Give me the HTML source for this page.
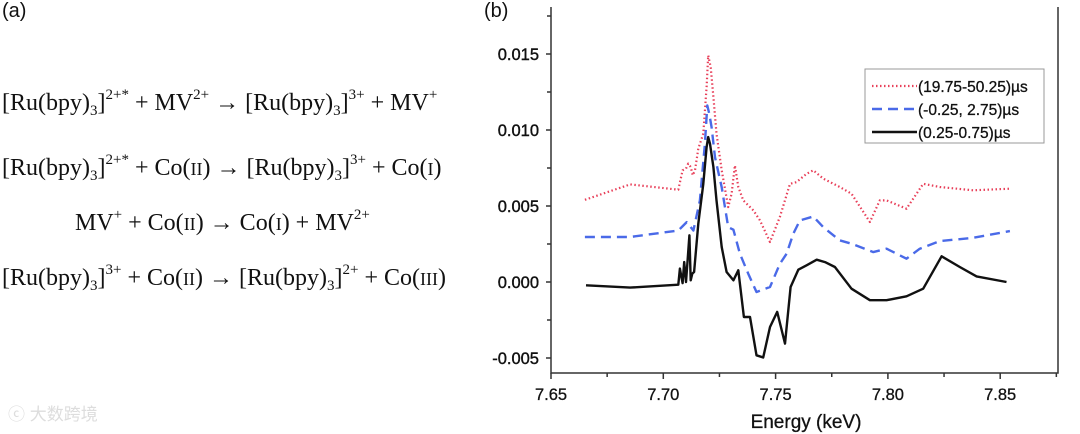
<!DOCTYPE html>
<html><head><meta charset="utf-8"><style>
body{margin:0;background:#fff;width:1080px;height:434px;overflow:hidden;position:relative}
.eq{position:absolute;font-family:"Liberation Serif",serif;font-size:24px;color:#111;white-space:nowrap}
.eq sup{font-size:15px;vertical-align:11px;line-height:0}
.eq sub{font-size:15px;vertical-align:-5px;line-height:0}
.sc{font-size:18px}
.lbl{position:absolute;font-family:"Liberation Sans",sans-serif;font-size:20px;color:#111}
</style></head><body>
<div class="lbl" style="left:2px;top:0px">(a)</div>
<div class="lbl" style="left:484px;top:0px">(b)</div>
<div class="eq" style="left:2px;top:90px">[Ru(bpy)<sub>3</sub>]<sup>2+*</sup> + MV<sup>2+</sup> → [Ru(bpy)<sub>3</sub>]<sup>3+</sup> + MV<sup>+</sup></div>
<div class="eq" style="left:2px;top:155px">[Ru(bpy)<sub>3</sub>]<sup>2+*</sup> + Co(<span class="sc">II</span>) → [Ru(bpy)<sub>3</sub>]<sup>3+</sup> + Co(<span class="sc">I</span>)</div>
<div class="eq" style="left:75px;top:210px">MV<sup>+</sup> + Co(<span class="sc">II</span>) → Co(<span class="sc">I</span>) + MV<sup>2+</sup></div>
<div class="eq" style="left:2px;top:265px">[Ru(bpy)<sub>3</sub>]<sup>3+</sup> + Co(<span class="sc">II</span>) → [Ru(bpy)<sub>3</sub>]<sup>2+</sup> + Co(<span class="sc">III</span>)</div>
<div style="position:absolute;left:8px;top:400px;font-family:'Liberation Sans','Noto Sans CJK SC',sans-serif;font-size:17px;color:#ddd">ⓒ 大数跨境</div>
<svg id="chart" width="1080" height="434" style="position:absolute;left:0;top:0" font-family="Liberation Sans, sans-serif"></svg>
<script>
const xTicks=[7.65,7.70,7.75,7.80,7.85];
const yTicks=[-0.005,0.000,0.005,0.010,0.015];
const yTickLabels=["-0.005","0.000","0.005","0.010","0.015"];
const redE=[7.6651,7.6852,7.7067,7.7086,7.7101,7.7111,7.7122,7.7131,7.7141,7.7156,7.7178,7.7193,7.7200,7.7211,7.7223,7.7237,7.7260,7.7289,7.7304,7.7319,7.7334,7.7356,7.7401,7.7430,7.7475,7.7519,7.7564,7.7593,7.7638,7.7668,7.7712,7.7786,7.7838,7.7920,7.7964,7.7994,7.8083,7.8157,7.8231,7.8380,7.8543];
const redV=[0.00541,0.00642,0.00607,0.00735,0.00746,0.00779,0.00757,0.00702,0.00735,0.00877,0.00976,0.01283,0.01491,0.01414,0.01217,0.00976,0.00735,0.00493,0.00581,0.00767,0.00625,0.00537,0.00471,0.00406,0.00263,0.00428,0.00646,0.00657,0.00712,0.00735,0.00680,0.00625,0.00581,0.00395,0.00537,0.00537,0.00482,0.00646,0.00625,0.00603,0.00614];
const blueE=[7.6651,7.6852,7.7067,7.7104,7.7134,7.7163,7.7185,7.7196,7.7205,7.7215,7.7230,7.7260,7.7289,7.7312,7.7341,7.7378,7.7415,7.7475,7.7519,7.7549,7.7579,7.7608,7.7668,7.7712,7.7786,7.7838,7.7935,7.7994,7.8083,7.8142,7.8231,7.8380,7.8543];
const blueV=[0.00296,0.00296,0.00339,0.00394,0.00339,0.00537,0.00909,0.01161,0.01106,0.01018,0.00821,0.00624,0.00361,0.00344,0.00186,0.00055,-0.00066,-0.00033,0.00120,0.00186,0.00318,0.00405,0.00431,0.00361,0.00274,0.00252,0.00197,0.00219,0.00153,0.00219,0.00269,0.00291,0.00335];
const blackE=[7.6656,7.6852,7.7067,7.7074,7.7086,7.7093,7.7101,7.7108,7.7116,7.7122,7.7129,7.7137,7.7156,7.7178,7.7193,7.7200,7.7208,7.7223,7.7237,7.7260,7.7282,7.7312,7.7334,7.7359,7.7386,7.7415,7.7445,7.7475,7.7507,7.7542,7.7567,7.7601,7.7638,7.7683,7.7720,7.7764,7.7838,7.7920,7.7994,7.8083,7.8157,7.8239,7.8320,7.8395,7.8528];
const blackV=[-0.00022,-0.00037,-0.00018,0.00088,-0.00007,0.00131,0,0.00142,0.00307,0.00011,0.00055,0.00066,0.00384,0.00646,0.00887,0.00953,0.00909,0.00756,0.00537,0.00230,0.00066,0.00011,0.00077,-0.00230,-0.00230,-0.00482,-0.00497,-0.00296,-0.00197,-0.00405,-0.00033,0.00081,0.00110,0.00147,0.00131,0.00099,-0.00044,-0.00120,-0.00120,-0.00094,-0.00044,0.00169,0.00099,0.00037,0];
const legendLabels=["(19.75-50.25)µs","(-0.25, 2.75)µs","(0.25-0.75)µs"];

const NS="http://www.w3.org/2000/svg",svg=document.getElementById('chart');
const L=551,R=1058,T=7,B=373;
const xs=e=>551+(e-7.65)/0.05*112.3;
const ys=v=>282-v/0.005*76;
function mk(t,a,p){const el=document.createElementNS(NS,t);for(const k in a)el.setAttribute(k,a[k]);(p||svg).appendChild(el);return el;}
let el;
el=mk('path',{d:`M${L},${T}V${B}H${R}V${T}`,fill:'none',stroke:'#333','stroke-width':1.5});


yTicks.forEach((v,i)=>{
  el=mk('line',{x1:L-5,x2:L,y1:ys(v),y2:ys(v),stroke:'#333','stroke-width':1.5});
  
  
  el=mk('line',{x1:L-4,x2:L,y1:ys(v+0.0025),y2:ys(v+0.0025),stroke:'#333','stroke-width':1.5});
  
  
  el=mk('text',{x:L-12,y:ys(v)+6,'text-anchor':'end','font-size':16.5,fill:'#111',stroke:'#111','stroke-width':0.4});
  el.textContent=yTickLabels[i];
  
  
});
xTicks.forEach(v=>{
  el=mk('line',{x1:xs(v),x2:xs(v),y1:B,y2:B+6,stroke:'#333','stroke-width':1.5});
  
  
  el=mk('line',{x1:xs(v+0.025),x2:xs(v+0.025),y1:B,y2:B+4,stroke:'#333','stroke-width':1.5});
  
  
  el=mk('text',{x:xs(v),y:B+27,'text-anchor':'middle','font-size':16.5,fill:'#111',stroke:'#111','stroke-width':0.3});
  el.textContent=v.toFixed(2);
  
  
});
el=mk('text',{x:806,y:428,'text-anchor':'middle','font-size':19,fill:'#111',stroke:'#111','stroke-width':0.3});
el.textContent='Energy (keV)';


const series=[[redE,redV,'#e8405a','1.5 2.5',2.2,'series-red-dotted'],[blueE,blueV,'#4a6ae8','10 6',2.4,'series-blue-dashed'],[blackE,blackV,'#111','',2.4,'series-black-solid']];
series.forEach(s=>{
  el=mk('path',{d:s[0].map((e,i)=>(i?'L':'M')+xs(e).toFixed(1)+','+ys(s[1][i]).toFixed(1)).join(''),fill:'none',stroke:s[2],'stroke-width':s[4],'stroke-dasharray':s[3],'stroke-linejoin':'round'});
  
  
});
el=mk('rect',{x:865,y:69,width:179,height:74,fill:'#fff',stroke:'#999','stroke-width':1});


series.forEach((s,i)=>{
  const y=86+i*23;
  el=mk('line',{x1:872,x2:917,y1:y,y2:y,stroke:s[2],'stroke-width':s[4],'stroke-dasharray':s[3]});
  
  
  el=mk('text',{x:918,y:y+6,'font-size':15.5,fill:'#111',stroke:'#111','stroke-width':0.3});
  el.textContent=legendLabels[i];
  
  
});
</script>
</body></html>
